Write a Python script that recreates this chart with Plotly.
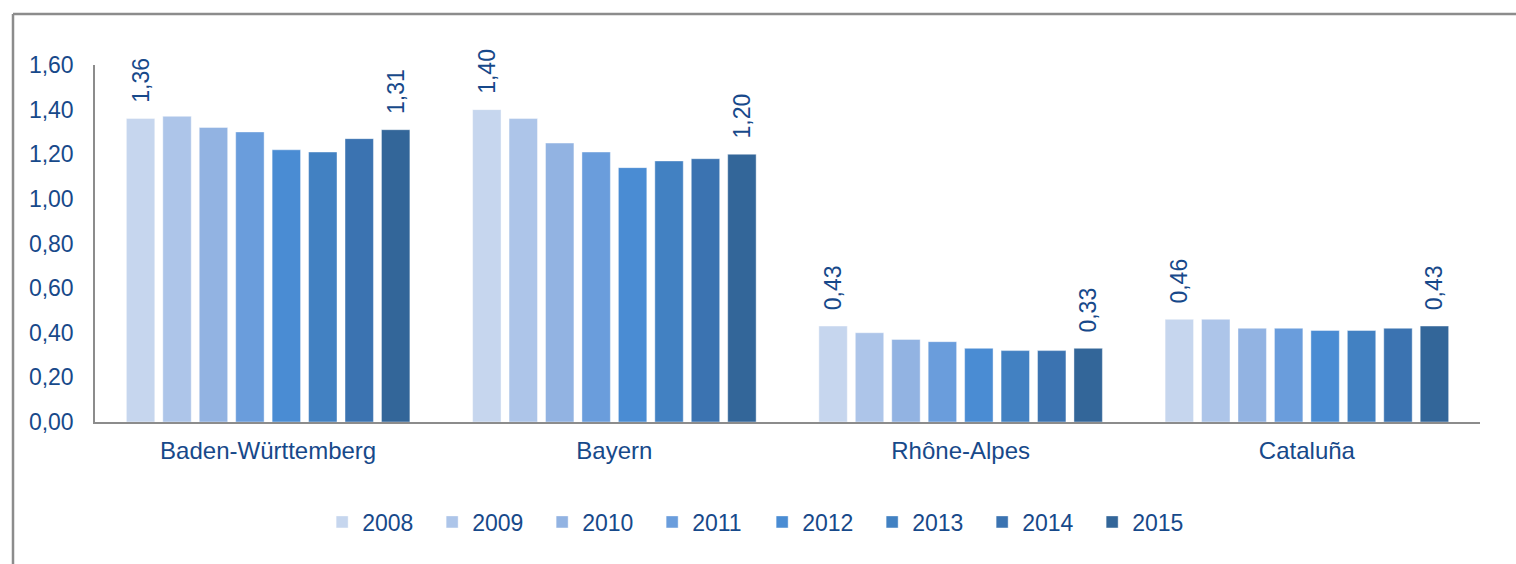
import plotly.graph_objects as go

regions = ["Baden-Württemberg", "Bayern", "Rhône-Alpes", "Cataluña"]
years = ["2008", "2009", "2010", "2011", "2012", "2013", "2014", "2015"]

v2008 = [1.36, 1.40, 0.43, 0.46]
v2009 = [1.37, 1.36, 0.40, 0.46]
v2010 = [1.32, 1.25, 0.37, 0.42]
v2011 = [1.30, 1.21, 0.36, 0.42]
v2012 = [1.22, 1.14, 0.33, 0.41]
v2013 = [1.21, 1.17, 0.32, 0.41]
v2014 = [1.27, 1.18, 0.32, 0.42]
v2015 = [1.31, 1.20, 0.33, 0.43]
series = [v2008, v2009, v2010, v2011, v2012, v2013, v2014, v2015]

colors = ["#C6D6EE", "#ADC5E9", "#92B3E2", "#6A9DDC",
          "#4A8CD3", "#4281C2", "#3B73B1", "#336699"]
labelled = {"2008", "2015"}

txt_color = "#17498A"
font_family = "Liberation Sans, Arial, sans-serif"

fig = go.Figure()
for yr, vals, col in zip(years, series, colors):
    kw = {}
    if yr in labelled:
        kw = dict(
            texttemplate="\u00a0\u00a0%{y:.2f}",
            textposition="outside",
            textangle=-90,
            textfont=dict(size=23, color=txt_color, family=font_family),
            constraintext="none",
            cliponaxis=False,
        )
    fig.add_trace(go.Bar(
        name=yr, x=regions, y=vals,
        marker=dict(color=col, line=dict(width=0.6, color="rgba(255,255,255,0.7)")),
        **kw,
    ))

fig.update_layout(
    width=1516, height=564,
    paper_bgcolor="white", plot_bgcolor="white",
    margin=dict(l=95, r=36, t=65, b=142),
    barmode="group", bargap=0.158, bargroupgap=0.22,
    separators=",.",
    font=dict(family=font_family, size=23, color=txt_color),
    showlegend=True,
    legend=dict(
        orientation="h", x=0.164, xanchor="left", y=-0.28, yanchor="middle",
        font=dict(size=23, color=txt_color), entrywidth=65,
        bgcolor="rgba(0,0,0,0)",
    ),
    shapes=[
        dict(type="line", xref="paper", yref="paper",
             x0=(13 - 95) / 1385, x1=1.1, y0=1 + (65 - 14) / 357, y1=1 + (65 - 14) / 357,
             line=dict(color="#8C8C8C", width=2.5)),
        dict(type="line", xref="paper", yref="paper",
             x0=(13 - 95) / 1385, x1=(13 - 95) / 1385, y0=1 + (65 - 14) / 357, y1=-0.5,
             line=dict(color="#8C8C8C", width=2.5)),
    ],
)
fig.update_yaxes(
    range=[0, 1.6], dtick=0.2, tickformat=".2f",
    showgrid=False, zeroline=False,
    showline=True, linecolor="#8C8C8C", linewidth=1.5,
    ticks="", ticklabelstandoff=15,
    tickfont=dict(size=23, color=txt_color),
)
fig.update_xaxes(
    showgrid=False, showline=True, linecolor="#8C8C8C", linewidth=2,
    ticks="", ticklabelstandoff=6,
    tickfont=dict(size=24, color=txt_color),
)

fig.write_html(
    "out.html",
    config={"displayModeBar": False},
    post_script="document.body.style.margin='0';document.body.style.padding='0';",
)
